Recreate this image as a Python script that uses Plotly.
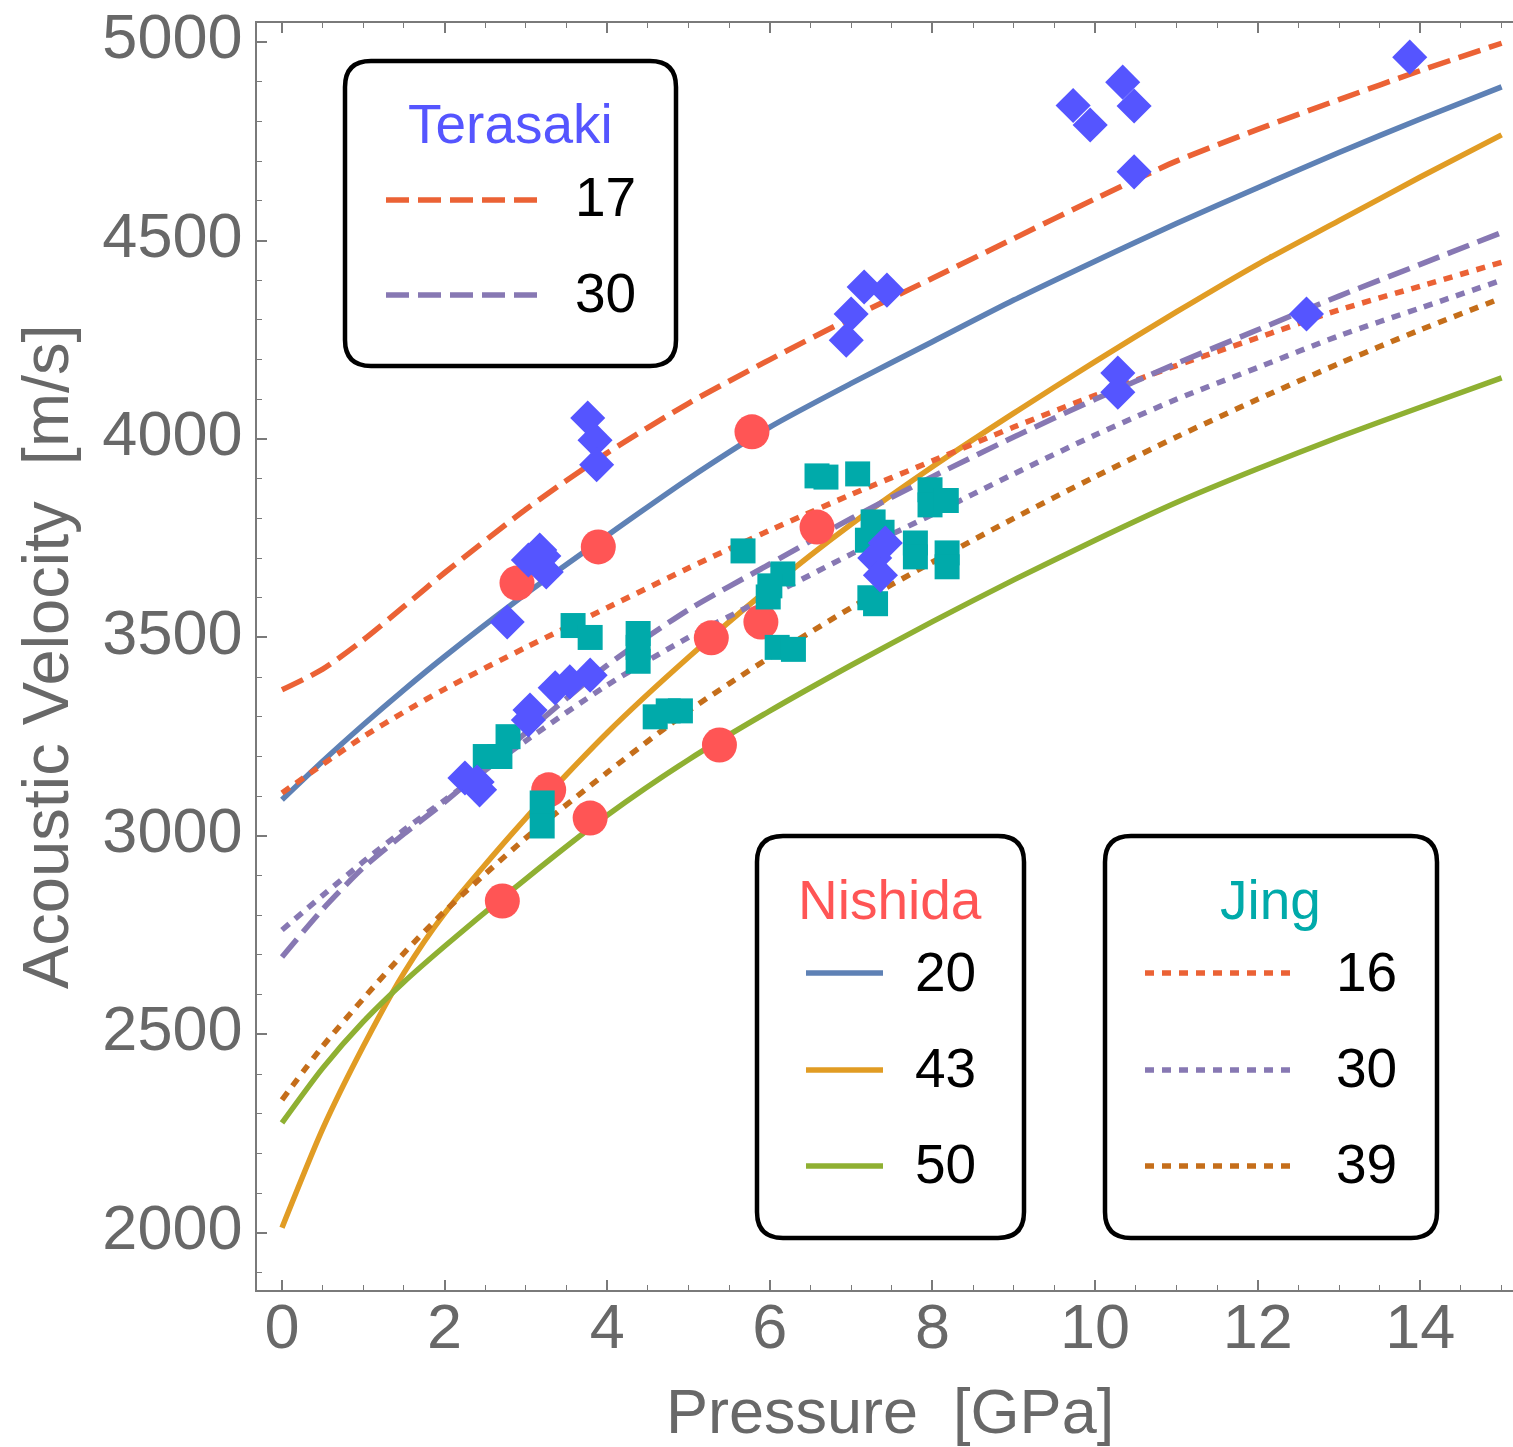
import plotly.graph_objects as go

# ---------------- data ----------------
pressure = [0, 0.5, 1, 1.5, 2, 3, 4, 5, 6, 7, 8, 9, 10, 11, 12, 13, 14, 15]

terasaki_17 = [3368, 3420, 3494, 3578, 3663, 3823, 3965, 4090, 4200, 4305, 4405, 4505, 4605, 4700, 4780, 4855, 4928, 4997]
terasaki_30 = [2695, 2815, 2920, 3005, 3085, 3260, 3430, 3570, 3685, 3800, 3905, 4005, 4100, 4190, 4275, 4360, 4440, 4520]
nishida_20 = [3091, 3188, 3280, 3368, 3452, 3610, 3757, 3900, 4030, 4140, 4245, 4350, 4448, 4543, 4633, 4722, 4806, 4887]
nishida_43 = [2013, 2262, 2470, 2655, 2805, 3045, 3260, 3450, 3625, 3785, 3930, 4065, 4195, 4320, 4440, 4550, 4660, 4766]
nishida_50 = [2277, 2415, 2532, 2632, 2722, 2892, 3052, 3192, 3315, 3430, 3540, 3645, 3745, 3840, 3925, 4005, 4080, 4154]
jing_16 = [3108, 3180, 3250, 3312, 3370, 3475, 3575, 3675, 3770, 3860, 3945, 4030, 4110, 4185, 4255, 4325, 4385, 4445]
jing_30 = [2763, 2850, 2935, 3015, 3090, 3240, 3380, 3500, 3605, 3710, 3810, 3912, 4010, 4100, 4180, 4260, 4330, 4400]
jing_39 = [2335, 2470, 2590, 2705, 2810, 2995, 3160, 3315, 3450, 3575, 3690, 3800, 3905, 4005, 4100, 4190, 4275, 4355]

terasaki_p = [13.87, 9.73, 9.94, 10.34, 10.48, 10.48, 12.6, 10.28, 10.28, 7.0, 7.16, 7.44, 6.94,
              3.76, 3.85, 3.87, 3.03, 3.17, 3.22, 3.25, 2.77, 3.05, 3.03, 3.36, 3.54, 3.79,
              2.25, 2.4, 2.43, 7.42, 7.29, 7.36]
terasaki_v = [4962, 4840, 4791, 4899, 4839, 4673, 4315, 4166, 4118, 4315, 4383, 4375, 4249,
              4053, 3997, 3935, 3695, 3720, 3705, 3665, 3539, 3317, 3292, 3373, 3388, 3405,
              3146, 3136, 3116, 3738, 3700, 3657]

nishida_p = [5.78, 3.89, 2.89, 6.58, 5.28, 5.89, 5.38, 3.28, 3.79, 2.71]
nishida_v = [4018, 3728, 3637, 3778, 3499, 3539, 3229, 3116, 3045, 2836]

jing_p = [6.58, 6.69, 7.08, 7.97, 7.97, 8.17, 5.67, 7.27, 7.38, 7.2, 7.79, 7.79, 8.18, 8.18,
          6.16, 6.0, 5.98, 7.23, 7.3, 6.09, 6.29, 3.58, 3.79, 4.38, 4.38, 4.38, 4.59, 4.75, 4.9,
          2.5, 2.68, 2.78, 3.2, 3.2]
jing_v = [3907, 3904, 3912, 3872, 3834, 3845, 3718, 3791, 3765, 3745, 3738, 3703, 3713, 3678,
          3660, 3630, 3602, 3600, 3585, 3475, 3470, 3530, 3500, 3510, 3475, 3440, 3300, 3315, 3315,
          3200, 3200, 3250, 3083, 3025]

x_ticks = [0, 2, 4, 6, 8, 10, 12, 14]
y_ticks = [2000, 2500, 3000, 3500, 4000, 4500, 5000]

# ---------------- styles ----------------
C_BLUE = "#5E81B5"
C_ORANGE = "#E19C24"
C_GREEN = "#8FB032"
C_RED = "#EB6235"
C_PURPLE = "#8778B3"
C_BROWN = "#C56E1A"
M_TER = "#5555FF"
M_NIS = "#FF5555"
M_JING = "#00AAAA"
DASH = "23px,9px"
DOT = "9px,8px"
LW = 5.5
FONT = "Liberation Sans, Arial, Helvetica, sans-serif"

fig = go.Figure()

curves = [
    (nishida_20, C_BLUE, "solid"),
    (nishida_43, C_ORANGE, "solid"),
    (nishida_50, C_GREEN, "solid"),
    (jing_16, C_RED, DOT),
    (jing_30, C_PURPLE, DOT),
    (jing_39, C_BROWN, DOT),
    (terasaki_17, C_RED, DASH),
    (terasaki_30, C_PURPLE, DASH),
]
for vals, col, dash in curves:
    fig.add_trace(go.Scatter(x=pressure, y=vals, mode="lines",
                             line=dict(color=col, width=LW, dash=dash, shape="spline", smoothing=0.7),
                             showlegend=False, hoverinfo="skip", cliponaxis=True))

fig.add_trace(go.Scatter(x=nishida_p, y=nishida_v, mode="markers",
                         marker=dict(symbol="circle", size=35, color=M_NIS, line=dict(width=0)),
                         showlegend=False, cliponaxis=False))
fig.add_trace(go.Scatter(x=jing_p, y=jing_v, mode="markers",
                         marker=dict(symbol="square", size=25, color=M_JING, line=dict(width=0)),
                         showlegend=False, cliponaxis=False))
fig.add_trace(go.Scatter(x=terasaki_p, y=terasaki_v, mode="markers",
                         marker=dict(symbol="diamond", size=27, color=M_TER, line=dict(width=0)),
                         showlegend=False, cliponaxis=False))

# ---------------- layout ----------------
W, H = 1513, 1447
PL, PR, PT, PB = 257, 1513, 23, 1290

def fx(px):
    return (px - PL) / (PR - PL)

def fy(py):
    return (PB - py) / (PB - PT)

axis_col = "#7a7a7a"
tick_font = dict(family=FONT, size=63, color="#686868")

fig.update_layout(
    width=W, height=H,
    margin=dict(l=PL, r=W - PR, t=PT, b=H - PB, pad=0),
    paper_bgcolor="white", plot_bgcolor="white",
    showlegend=False,
    xaxis=dict(range=[-0.3075, 15.14], tickvals=x_ticks, ticktext=[str(v) for v in x_ticks],
               ticks="inside", ticklen=10, tickwidth=1.5, tickcolor=axis_col,
               minor=dict(dtick=0.5, tick0=0, ticks="inside", ticklen=5, tickwidth=1.2, tickcolor=axis_col),
               showline=True, linecolor=axis_col, linewidth=1.8, mirror="ticks",
               showgrid=False, zeroline=False, tickfont=tick_font, ticklabelstandoff=-20),
    yaxis=dict(range=[1856, 5048], tickvals=y_ticks, ticktext=[str(v) for v in y_ticks],
               ticks="inside", ticklen=10, tickwidth=1.5, tickcolor=axis_col,
               minor=dict(dtick=100, tick0=0, ticks="inside", ticklen=5, tickwidth=1.2, tickcolor=axis_col),
               showline=True, linecolor=axis_col, linewidth=1.8, mirror=False,
               showgrid=False, zeroline=False, tickfont=tick_font, ticklabelshift=-6,
               ticklabeloverflow="allow"),
)

shapes = []
annotations = []

def rounded_box(x0, y0, x1, y1, r=26):
    rx = r / (PR - PL)
    ry = r / (PB - PT)
    X0, X1 = fx(x0), fx(x1)
    Y0, Y1 = fy(y0), fy(y1)  # Y0 top (larger), Y1 bottom
    path = (f"M {X0+rx},{Y0} L {X1-rx},{Y0} Q {X1},{Y0} {X1},{Y0-ry} "
            f"L {X1},{Y1+ry} Q {X1},{Y1} {X1-rx},{Y1} "
            f"L {X0+rx},{Y1} Q {X0},{Y1} {X0},{Y1+ry} "
            f"L {X0},{Y0-ry} Q {X0},{Y0} {X0+rx},{Y0} Z")
    return dict(type="path", path=path, xref="paper", yref="paper",
                line=dict(color="black", width=4.5), fillcolor="rgba(255,255,255,0)", layer="above")

def sample(x0, x1, y, col, dash):
    return dict(type="line", xref="paper", yref="paper", x0=fx(x0), x1=fx(x1), y0=fy(y), y1=fy(y),
                line=dict(color=col, width=LW, dash=dash), layer="above")

def label(txt, x, y, col, size=55):
    return dict(text=txt, x=fx(x), y=fy(y), xref="paper", yref="paper", showarrow=False,
                xanchor="center", yanchor="middle", font=dict(family=FONT, size=size, color=col))

# Terasaki legend
shapes.append(rounded_box(345, 61, 676, 366))
annotations.append(label("Terasaki", 510, 124, M_TER))
shapes.append(sample(386, 537, 200, C_RED, DASH))
shapes.append(sample(386, 537, 295, C_PURPLE, DASH))
annotations.append(label("17", 605, 197, "black"))
annotations.append(label("30", 605, 293, "black"))

# Nishida legend
shapes.append(rounded_box(757, 836, 1024, 1238))
annotations.append(label("Nishida", 890, 900, M_NIS))
shapes.append(sample(806, 883, 973, C_BLUE, "solid"))
shapes.append(sample(806, 883, 1070, C_ORANGE, "solid"))
shapes.append(sample(806, 883, 1166, C_GREEN, "solid"))
annotations.append(label("20", 945, 972, "black"))
annotations.append(label("43", 945, 1068, "black"))
annotations.append(label("50", 945, 1164, "black"))

# Jing legend
shapes.append(rounded_box(1105, 836, 1437, 1238))
annotations.append(label("Jing", 1270, 900, M_JING))
shapes.append(sample(1145, 1298, 973, C_RED, DOT))
shapes.append(sample(1145, 1298, 1070, C_PURPLE, DOT))
shapes.append(sample(1145, 1298, 1166, C_BROWN, DOT))
annotations.append(label("16", 1366, 972, "black"))
annotations.append(label("30", 1366, 1068, "black"))
annotations.append(label("39", 1366, 1164, "black"))

# axis titles
annotations.append(label("Pressure  [GPa]", 890, 1411, "#686868", size=63))
annotations.append(dict(text="Acoustic Velocity  [m/s]", x=fx(45), y=fy(657), xref="paper", yref="paper",
                        showarrow=False, textangle=-90, xanchor="center", yanchor="middle",
                        font=dict(family=FONT, size=65, color="#686868")))

fig.update_layout(shapes=shapes, annotations=annotations)

fig.write_html("out.html")
